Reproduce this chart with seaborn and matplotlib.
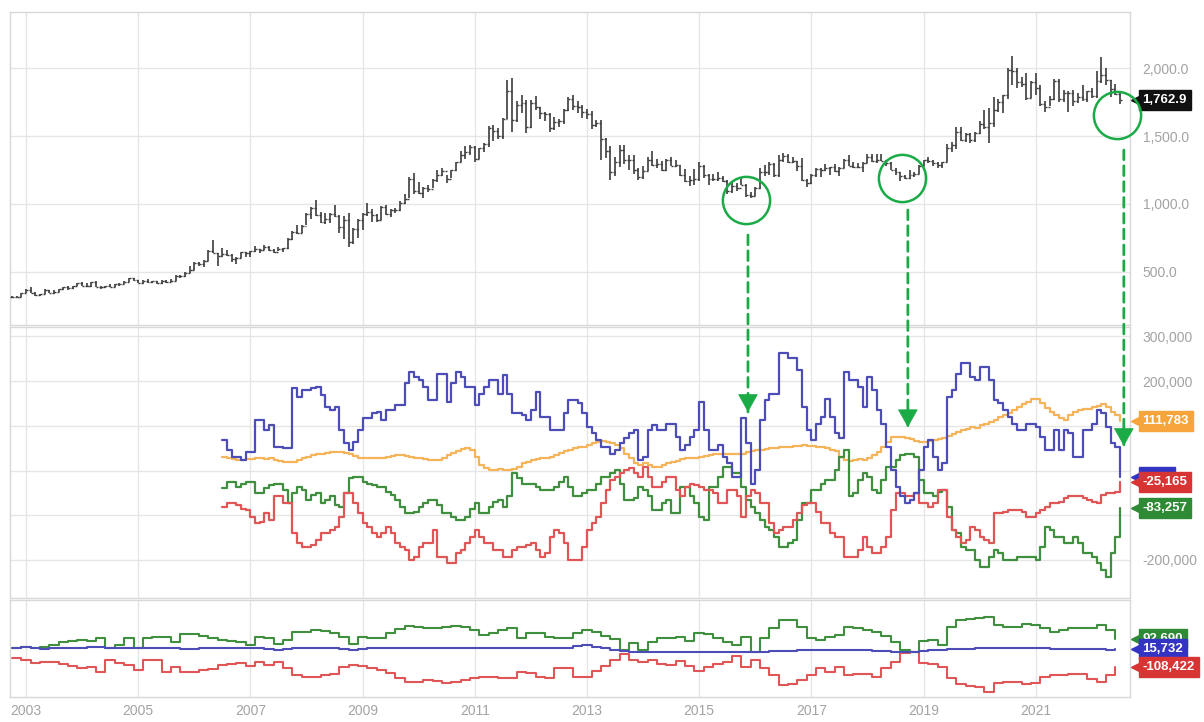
import numpy as np
import pandas as pd
import matplotlib
matplotlib.use("Agg")
import matplotlib.pyplot as plt
import seaborn as sns
from matplotlib.patches import ConnectionPatch
from matplotlib.transforms import offset_copy

# ------------------------------------------------------------------ data
# Gold, monthly bars Oct 2002 .. Jul 2022
gold_high = [
    325, 323, 349,
    372, 389, 352, 341, 374, 367, 367, 378, 391, 396, 399, 417,
    427, 419, 428, 430, 395, 400, 410, 410, 419, 430, 456, 458,
    438, 438, 446, 437, 436, 443, 439, 448, 475, 476, 497, 541,
    572, 574, 587, 659, 732, 643, 677, 663, 632, 608, 650, 650,
    657, 690, 669, 698, 692, 672, 683, 677, 747, 798, 848, 842,
    934, 975, 1033, 938, 932, 937, 989, 919, 910, 932, 825, 889,
    934, 1007, 961, 926, 984, 990, 963, 970, 1024, 1070, 1196, 1227,
    1162, 1128, 1139, 1185, 1249, 1266, 1213, 1248, 1310, 1388, 1425, 1432,
    1424, 1413, 1448, 1575, 1578, 1561, 1632, 1912, 1923, 1754, 1804, 1764,
    1764, 1792, 1716, 1679, 1668, 1641, 1627, 1697, 1790, 1798, 1754, 1727,
    1699, 1683, 1616, 1616, 1488, 1424, 1348, 1434, 1433, 1361, 1362, 1268,
    1279, 1345, 1392, 1331, 1315, 1332, 1346, 1321, 1289, 1255, 1208, 1255,
    1307, 1287, 1224, 1224, 1232, 1205, 1180, 1170, 1157, 1191, 1145, 1088,
    1127, 1263, 1287, 1306, 1304, 1362, 1377, 1366, 1344, 1318, 1337, 1182,
    1220, 1264, 1262, 1297, 1272, 1297, 1274, 1331, 1362, 1306, 1299, 1309,
    1366, 1365, 1365, 1369, 1326, 1309, 1266, 1236, 1214, 1247, 1237, 1286,
    1326, 1349, 1324, 1310, 1312, 1443, 1453, 1566, 1566, 1524, 1519, 1526,
    1613, 1691, 1704, 1788, 1775, 1800, 2000, 2089, 2001, 1933, 1966, 1907,
    1962, 1875, 1760, 1797, 1917, 1919, 1836, 1834, 1836, 1813, 1877, 1831,
    1855, 1976, 2079, 1998, 1910, 1879, 1814,
]
gold_low = [
    311, 314, 318,
    342, 342, 323, 320, 336, 343, 341, 351, 371, 366, 374, 396,
    399, 393, 393, 387, 372, 385, 387, 386, 398, 412, 425, 432,
    418, 411, 422, 422, 414, 414, 418, 428, 432, 459, 466, 489,
    517, 543, 538, 582, 640, 543, 607, 614, 573, 560, 605, 611,
    608, 645, 636, 664, 653, 642, 651, 648, 671, 733, 780, 783,
    843, 886, 908, 863, 850, 858, 904, 786, 740, 681, 705, 752,
    806, 910, 866, 865, 883, 916, 904, 934, 952, 1000, 1041, 1076,
    1074, 1044, 1088, 1114, 1165, 1205, 1155, 1191, 1242, 1308, 1330, 1361,
    1308, 1328, 1380, 1420, 1462, 1479, 1478, 1622, 1532, 1602, 1667, 1523,
    1562, 1693, 1627, 1612, 1527, 1546, 1564, 1588, 1686, 1692, 1672, 1635,
    1626, 1554, 1565, 1321, 1338, 1180, 1207, 1270, 1292, 1251, 1221, 1180,
    1182, 1240, 1277, 1268, 1240, 1240, 1280, 1273, 1204, 1160, 1131, 1142,
    1167, 1191, 1142, 1170, 1170, 1162, 1072, 1078, 1098, 1136, 1052, 1046,
    1061, 1107, 1208, 1210, 1200, 1200, 1310, 1301, 1302, 1241, 1171, 1124,
    1146, 1196, 1195, 1245, 1214, 1237, 1204, 1262, 1276, 1262, 1264, 1236,
    1302, 1307, 1303, 1314, 1282, 1250, 1211, 1167, 1183, 1182, 1196, 1221,
    1276, 1303, 1281, 1266, 1268, 1309, 1385, 1401, 1465, 1459, 1446, 1459,
    1518, 1549, 1451, 1567, 1680, 1670, 1771, 1874, 1851, 1859, 1767, 1776,
    1802, 1717, 1673, 1721, 1766, 1750, 1751, 1677, 1721, 1746, 1760, 1753,
    1780, 1781, 1890, 1872, 1787, 1805, 1733,
]
gold_close = [
    317, 319, 347,
    368, 347, 334, 336, 364, 346, 354, 375, 388, 384, 398, 416,
    400, 396, 427, 388, 393, 395, 391, 408, 415, 429, 453, 438,
    422, 436, 428, 435, 417, 437, 429, 434, 473, 470, 495, 518,
    569, 556, 582, 654, 643, 616, 633, 626, 599, 604, 648, 636,
    651, 669, 663, 681, 659, 650, 666, 673, 743, 795, 783, 838,
    924, 972, 916, 866, 887, 930, 913, 833, 884, 717, 819, 884,
    928, 942, 916, 883, 980, 927, 955, 953, 1008, 1040, 1182, 1096,
    1081, 1118, 1113, 1180, 1213, 1244, 1181, 1248, 1308, 1359, 1386, 1421,
    1332, 1410, 1439, 1556, 1536, 1502, 1628, 1829, 1620, 1725, 1746, 1566,
    1740, 1710, 1669, 1664, 1560, 1604, 1610, 1691, 1772, 1719, 1712, 1676,
    1662, 1578, 1596, 1476, 1392, 1234, 1312, 1396, 1327, 1323, 1250, 1202,
    1240, 1321, 1284, 1296, 1250, 1322, 1282, 1287, 1210, 1171, 1175, 1184,
    1278, 1213, 1183, 1184, 1190, 1172, 1095, 1134, 1115, 1142, 1064, 1061,
    1118, 1238, 1235, 1293, 1216, 1322, 1351, 1309, 1316, 1277, 1173, 1152,
    1211, 1254, 1249, 1266, 1269, 1242, 1268, 1322, 1280, 1271, 1275, 1303,
    1345, 1318, 1327, 1316, 1305, 1253, 1233, 1206, 1192, 1215, 1223, 1282,
    1325, 1316, 1298, 1285, 1311, 1413, 1437, 1529, 1472, 1514, 1473, 1523,
    1587, 1566, 1596, 1694, 1751, 1800, 1986, 1978, 1895, 1879, 1780, 1895,
    1850, 1734, 1715, 1769, 1907, 1771, 1817, 1818, 1757, 1784, 1774, 1829,
    1796, 1901, 1949, 1911, 1848, 1807, 1762.9,
]

# Disaggregated COT net positions (thousands of contracts), monthly Jul 2006 .. Jul 2022
managed_money_k = [
    68, 46, 31, 31, 23, 42,
    42, 113, 113, 90, 102, 53, 53, 50, 50, 184, 165, 180,
    180, 184, 187, 169, 143, 135, 143, 90, 61, 46, 64, 90,
    117, 117, 128, 131, 113, 135, 135, 146, 146, 195, 221, 210,
    202, 187, 158, 158, 217, 217, 154, 195, 221, 210, 187, 187,
    146, 172, 187, 202, 202, 172, 213, 172, 128, 128, 124, 113,
    135, 176, 120, 120, 90, 90, 90, 128, 158, 158, 150, 128,
    98, 83, 68, 53, 53, 38, 46, 61, 72, 83, 90, 23,
    31, 90, 102, 90, 90, 105, 105, 76, 46, 57, 76, 90,
    154, 90, 46, 46, 57, 31, 16, -14, -14, 117, 61, -29,
    1, 113, 158, 172, 172, 262, 262, 251, 251, 225, 143, 90,
    68, 105, 120, 161, 120, 83, 72, 221, 202, 202, 187, 143,
    210, 180, 135, 105, 53, 1, -36, -58, -73, -66, -51, 1,
    53, 68, 31, 1, 16, 165, 180, 217, 240, 240, 210, 202,
    232, 232, 202, 158, 150, 135, 120, 105, 90, 90, 105, 105,
    98, 76, 46, 46, 90, 46, 90, 83, 31, 31, 90, 90,
    105, 135, 128, 98, 61, 53, -14.018,
]
other_reportables_k = [
    31, 29, 25, 23, 23, 25,
    26, 27, 27, 25, 27, 23, 22, 20, 20, 20, 23, 27,
    31, 35, 37, 38, 40, 41, 42, 42, 40, 37, 32, 29,
    27, 27, 27, 27, 29, 31, 32, 35, 34, 32, 31, 29,
    27, 25, 23, 23, 23, 27, 34, 40, 44, 49, 50, 46,
    31, 12, 5, 1, 1, 3, 1, 1, 3, 9, 16, 20,
    23, 25, 27, 29, 31, 35, 40, 44, 47, 50, 52, 53,
    57, 61, 64, 65, 64, 61, 57, 50, 38, 27, 17, 12,
    16, 12, 9, 9, 12, 16, 19, 22, 25, 27, 28, 29,
    31, 32, 35, 37, 38, 38, 38, 37, 37, 38, 42, 44,
    46, 47, 48, 50, 50, 52, 53, 53, 55, 56, 57, 56,
    55, 53, 52, 50, 47, 44, 31, 23, 22, 23, 25, 23,
    27, 35, 42, 53, 64, 76, 76, 74, 72, 70, 67, 64,
    64, 67, 68, 70, 72, 77, 81, 87, 90, 94, 98, 96,
    102, 105, 109, 113, 119, 124, 129, 135, 141, 148, 154, 159,
    161, 150, 139, 131, 124, 117, 113, 124, 131, 135, 137, 138,
    141, 144, 149, 141, 131, 124, 111.783,
]
swap_dealers_k = [
    -40, -25, -25, -36, -29, -25,
    -25, -51, -51, -40, -32, -29, -29, -44, -73, -51, -36, -44,
    -66, -55, -51, -73, -66, -58, -77, -81, -51, -17, -14, -14,
    -25, -29, -32, -36, -36, -47, -55, -66, -81, -96, -96, -92,
    -81, -73, -66, -66, -77, -96, -96, -103, -111, -111, -103, -85,
    -73, -96, -96, -81, -70, -66, -81, -58, -6, -17, -29, -29,
    -29, -36, -44, -44, -44, -36, -25, -14, -36, -58, -58, -51,
    -44, -44, -29, -14, -14, -6, 1, -29, -66, -66, -62, -36,
    -44, -58, -88, -88, -73, -66, -96, -96, -36, -36, -58, -73,
    -103, -111, -36, -36, -14, 9, 9, -6, -6, -36, -66, -81,
    -96, -111, -126, -133, -148, -170, -170, -163, -155, -111, -73, -73,
    -44, -44, -29, -21, -21, 1, 31, 46, -58, -51, -21, -6,
    -14, -44, -51, -21, 9, 9, 23, 35, 38, 38, 31, -21,
    -51, -51, -58, -47, -44, -81, -133, -140, -170, -178, -178, -200,
    -215, -215, -193, -178, -185, -200, -200, -200, -193, -193, -193, -193,
    -200, -170, -126, -133, -148, -148, -163, -163, -148, -163, -185, -185,
    -193, -207, -222, -237, -185, -148, -83.257,
]
producers_k = [
    -81, -73, -73, -77, -85, -88,
    -103, -118, -114, -96, -111, -58, -58, -73, -73, -140, -163, -170,
    -170, -166, -155, -140, -140, -133, -126, -103, -51, -51, -73, -96,
    -118, -126, -140, -148, -140, -126, -140, -163, -170, -178, -200, -193,
    -170, -163, -163, -133, -193, -193, -207, -207, -185, -178, -163, -148,
    -133, -148, -163, -163, -178, -178, -193, -193, -178, -170, -170, -166,
    -163, -178, -193, -185, -148, -133, -140, -163, -200, -200, -200, -170,
    -133, -118, -103, -73, -44, -21, -14, -6, 1, 5, -6, -14,
    9, -14, -36, -36, -25, -14, -14, -44, -58, -36, -29, -32,
    -36, -44, -44, -51, -73, -73, -44, -44, -58, -103, -58, -44,
    -51, -73, -73, -118, -140, -133, -126, -126, -111, -96, -77, -73,
    -73, -92, -118, -118, -140, -148, -148, -193, -193, -193, -178, -148,
    -170, -185, -185, -170, -148, -88, -51, -51, -58, -58, -51, -73,
    -73, -81, -73, -44, -44, -103, -133, -148, -163, -155, -126, -133,
    -148, -155, -163, -96, -96, -92, -88, -88, -88, -92, -103, -103,
    -96, -88, -81, -73, -73, -70, -62, -58, -58, -58, -62, -66,
    -70, -73, -55, -51, -51, -47, -25.165,
]

# Legacy COT net positions (thousands), every two months Oct 2002 .. Jun 2022
noncommercial_k = [
    23, 35, 23, 35, 46, 65, 75, 82, 75, 94,
    23, 46, 94, 23, 94, 106, 106, 70, 123, 123,
    113, 99, 82, 75, 65, 46, 106, 94, 51, 82,
    137, 142, 154, 146, 130, 106, 51, 106, 99, 99,
    130, 161, 185, 177, 165, 165, 177, 185, 177, 154,
    118, 130, 154, 165, 99, 130, 130, 106, 94, 94,
    130, 154, 142, 113, 89, 11, 58, 11, 70, 94,
    94, 106, 75, 130, 123, 94, 70, 46, 106, -1,
    94, 165, 225, 225, 177, 94, 82, 106, 118, 177,
    165, 154, 142, 113, 70, 11, -6, 75, 82, 46,
    177, 225, 232, 237, 249, 189, 177, 177, 194, 189,
    165, 142, 154, 165, 165, 170, 189, 154, 92.690,
]
commercial_k = [
    -49, -61, -85, -77, -73, -92, -101, -120, -108, -144,
    -61, -85, -96, -132, -61, -61, -144, -108, -149, -144,
    -132, -125, -96, -89, -85, -101, -73, -96, -73, -120,
    -168, -180, -180, -168, -163, -108, -96, -101, -120, -132,
    -156, -187, -220, -215, -204, -211, -227, -220, -204, -192,
    -180, -180, -187, -192, -144, -156, -180, -192, -115, -120,
    -180, -180, -139, -101, -61, -20, -61, -73, -61, -92,
    -96, -68, -101, -139, -108, -92, -73, -30, -108, -61,
    -120, -168, -239, -235, -204, -168, -115, -144, -108, -168,
    -163, -163, -180, -120, -73, -13, -1, -85, -92, -108,
    -192, -235, -244, -251, -287, -227, -215, -220, -235, -227,
    -180, -168, -168, -163, -163, -196, -215, -168, -108.422,
]
nonreportable_k = [
    23, 35, 23, 18, 23, 23, 23, 23, 32, 35,
    23, 23, 27, 27, 23, 23, 23, 23, 18, 18,
    23, 23, 27, 27, 23, 23, 23, 18, 11, 18,
    23, 23, 27, 27, 23, 18, 11, 18, 23, 23,
    27, 27, 27, 27, 27, 27, 27, 27, 27, 27,
    27, 27, 27, 27, 27, 27, 23, 23, 23, 23,
    42, 46, 35, 23, 11, 4, -1, -1, -1, -1,
    -1, -1, -1, -1, -1, -1, -1, -6, -6, -6,
    -1, 4, 4, 4, 8, 11, 11, 11, 11, 11,
    11, 11, 4, 4, -1, -6, -6, 4, 8, 13,
    15, 18, 18, 23, 23, 23, 23, 23, 23, 23,
    23, 18, 18, 18, 18, 18, 15, 13, 15.732,
]

year_ticks = [2003, 2005, 2007, 2009, 2011, 2013, 2015, 2017, 2019, 2021]
price_ticks = [500, 1000, 1500, 2000]
cot_ticks = [-200000, -100000, 0, 100000, 200000, 300000]
cot_tick_labels = ["-200,000", "", "", "", "200,000", "300,000"]

# highlighted lows and arrows (annotation)
highlight_years = [2015.84, 2018.62, 2022.45]
highlight_prices = [1029, 1191, 1654]
arrow_years = [2015.87, 2018.72, 2022.57]
arrow_start_prices = [772, 956, 1397]
arrow_tip_values = [131000, 97000, 55000]

# ------------------------------------------------------------------ helpers
def to_year(dates):
    return np.array([d.year + (d.month - 1) / 12.0 for d in dates])

gold_x = to_year(pd.date_range("2002-10-01", periods=len(gold_close), freq="MS"))
cot_x = to_year(pd.date_range("2006-07-01", periods=len(producers_k), freq="MS"))
leg_x = to_year(pd.date_range("2002-10-01", periods=len(commercial_k), freq="2MS"))
gold_open = [gold_close[0]] + gold_close[:-1]

sns.set_theme(style="white")
plt.rcParams["font.family"] = ["Liberation Sans", "DejaVu Sans"]

GRID = "#e6e6e6"
SPINE = "#d8d8d8"
TICKC = "#a3a3a3"
GREEN_ANN = "#1aab46"
C_BLUE = "#4d4db8"
C_ORANGE = "#f5b35a"
C_GREEN = "#3f8f3f"
C_RED = "#e05656"

fig = plt.figure(figsize=(12.04, 7.22), dpi=100)
W, H = 1204.0, 722.0
L, R = 10 / W, 1130 / W

def rect(y0, y1):
    return [L, 1 - y1 / H, R - L, (y1 - y0) / H]

ax_top = fig.add_axes(rect(12, 325))
ax_mid = fig.add_axes(rect(327, 598))
ax_bot = fig.add_axes(rect(600, 697))

X0, X1 = 2002.715, 2022.68
for ax in (ax_top, ax_mid, ax_bot):
    ax.set_facecolor("white")
    for s in ax.spines.values():
        s.set_color(SPINE)
        s.set_linewidth(1.0)
    ax.set_xlim(X0, X1)
    ax.set_xticks(year_ticks)
    ax.grid(True, color=GRID, lw=1.0)
    ax.set_axisbelow(True)
    ax.tick_params(length=0, labelsize=10, labelcolor=TICKC)
    ax.yaxis.tick_right()

ax_top.tick_params(labelbottom=False)
ax_mid.tick_params(labelbottom=False)
ax_bot.set_xticklabels([str(y) for y in year_ticks])
ax_bot.tick_params(axis="x", pad=5)

# ---- top: gold bars
ax_top.vlines(gold_x, gold_low, gold_high, color="#3c3c3c", lw=1.2, zorder=3)
ax_top.hlines(gold_open, gold_x - 0.035, gold_x, color="#3c3c3c", lw=1.0, zorder=3)
ax_top.hlines(gold_close, gold_x, gold_x + 0.035, color="#3c3c3c", lw=1.0, zorder=3)
ax_top.set_ylim(110, 2412)
ax_top.set_yticks(price_ticks)
ax_top.set_yticklabels([f"{v:,.1f}" for v in price_ticks])
ax_top.tick_params(axis="y", pad=9)

# ---- middle: disaggregated COT
cot = pd.DataFrame({
    "x": cot_x,
    "other": np.array(other_reportables_k) * 1000,
    "swap": np.array(swap_dealers_k) * 1000,
    "prod": np.array(producers_k) * 1000,
    "mm": np.array(managed_money_k) * 1000,
})
for col, c in [("other", C_ORANGE), ("swap", C_GREEN), ("prod", C_RED), ("mm", C_BLUE)]:
    sns.lineplot(data=cot, x="x", y=col, ax=ax_mid, color=c, lw=1.6,
                 drawstyle="steps-post", estimator=None, sort=False, legend=False)
ax_mid.set_ylim(-285000, 321000)
ax_mid.set_yticks(cot_ticks)
ax_mid.set_yticklabels(cot_tick_labels)
ax_mid.tick_params(axis="y", pad=9)

# ---- bottom: legacy COT
leg = pd.DataFrame({
    "x": leg_x,
    "nonrep": np.array(nonreportable_k) * 1000,
    "noncomm": np.array(noncommercial_k) * 1000,
    "comm": np.array(commercial_k) * 1000,
})
for col, c in [("noncomm", C_GREEN), ("comm", C_RED), ("nonrep", C_BLUE)]:
    sns.lineplot(data=leg, x="x", y=col, ax=ax_bot, color=c, lw=1.5,
                 drawstyle="steps-post", estimator=None, sort=False, legend=False)
ax_bot.set_ylim(-325000, 368000)
ax_bot.set_yticks([])

for ax in (ax_top, ax_mid, ax_bot):
    ax.set_xlabel("")
    ax.set_ylabel("")

# ---- value tags (box with a small pointer on the left)
def tag(ax, y, text, color, z=10):
    tr = offset_copy(ax.get_yaxis_transform(), fig=fig, x=4.5, y=0, units="points")
    ax.plot([1.0], [y], marker="<", ms=7.5, color=color, mec=color,
            transform=tr, clip_on=False, zorder=z)
    ax.annotate(text, xy=(1, y), xycoords=ax.get_yaxis_transform(),
                xytext=(9, 0), textcoords="offset points", ha="left", va="center",
                fontsize=9.5, fontweight="bold", color="white",
                bbox=dict(boxstyle="square,pad=0.3", fc=color, ec=color),
                annotation_clip=False, zorder=z)

tag(ax_top, gold_close[-1], f"{gold_close[-1]:,.1f}", "#111111")
tag(ax_mid, other_reportables_k[-1] * 1000, f"{other_reportables_k[-1]*1000:,.0f}", "#f5a53c")
# managed-money tag sits behind the producer tag (only its top edge shows)
tag(ax_mid, managed_money_k[-1] * 1000, "        ", "#3434c4", z=10)
tag(ax_mid, producers_k[-1] * 1000, f"{producers_k[-1]*1000:,.0f}", "#d83434", z=11)
tag(ax_mid, swap_dealers_k[-1] * 1000, f"{swap_dealers_k[-1]*1000:,.0f}", "#2e8a34", z=12)
tag(ax_bot, noncommercial_k[-1] * 1000, f"{noncommercial_k[-1]*1000:,.0f}", "#2e8a34", z=10)
tag(ax_bot, nonreportable_k[-1] * 1000, f"{nonreportable_k[-1]*1000:,.0f}", "#3434c4", z=11)
tag(ax_bot, commercial_k[-1] * 1000, f"{commercial_k[-1]*1000:,.0f}", "#d83434", z=12)

# ---- annotations: circles and dashed arrows
ax_top.plot(highlight_years, highlight_prices, "o", ms=34, mfc="none",
            mec=GREEN_ANN, mew=1.8, zorder=15, clip_on=False)
for yr, p0, v1 in zip(arrow_years, arrow_start_prices, arrow_tip_values):
    con = ConnectionPatch(xyA=(yr, p0), coordsA=ax_top.transData,
                          xyB=(yr, v1), coordsB=ax_mid.transData,
                          color=GREEN_ANN, lw=2.0, linestyle=(0, (3.5, 2.2)), zorder=20)
    fig.add_artist(con)
    ax_mid.annotate("", xy=(yr, v1), xytext=(0, 12), textcoords="offset points",
                    arrowprops=dict(arrowstyle="-|>,head_length=0.8,head_width=0.45",
                                    color=GREEN_ANN, lw=0.5, mutation_scale=15,
                                    shrinkA=0, shrinkB=0),
                    annotation_clip=False, zorder=21)

fig.savefig("out.png", dpi=100, facecolor="white")
